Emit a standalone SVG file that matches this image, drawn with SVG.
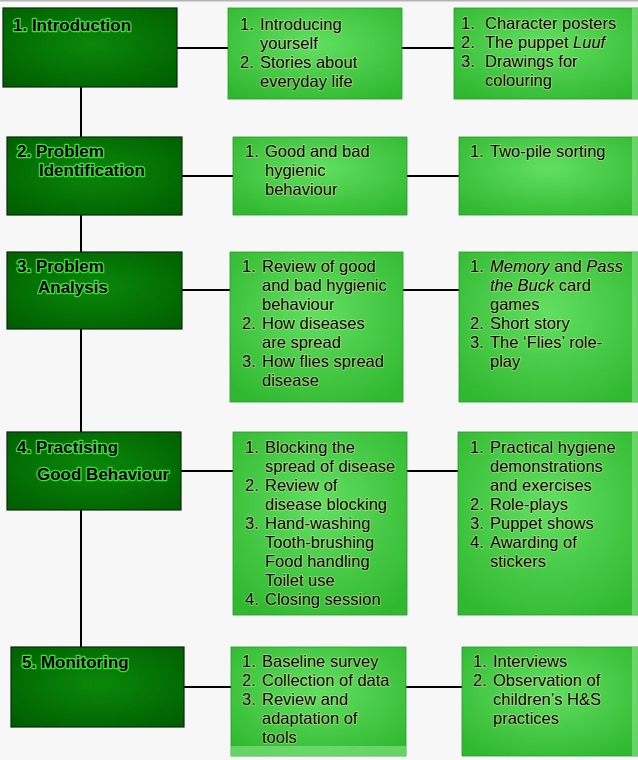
<svg xmlns="http://www.w3.org/2000/svg" width="638" height="760" viewBox="0 0 638 760">
<defs>
<radialGradient id="dk" cx="50%" cy="45%" r="70%">
<stop offset="0" stop-color="#0a880a"/>
<stop offset="1" stop-color="#005e00"/>
</radialGradient>
<radialGradient id="lt" cx="50%" cy="40%" r="70%">
<stop offset="0" stop-color="#62df62"/>
<stop offset="1" stop-color="#30b830"/>
</radialGradient>
<style>
.dk{fill:url(#dk);stroke:#0a2a0a;stroke-width:1.2}
.lt{fill:url(#lt);stroke:#2a9a2a;stroke-width:0.8}
.strip{fill:#7fe07f;opacity:0.7}
.h{font-family:"Liberation Sans",Arial,sans-serif;font-weight:bold;font-size:17px;fill:#000;stroke:#3fe03f;stroke-width:2.6;paint-order:stroke;stroke-linejoin:round}
.t{font-family:"Liberation Sans",Arial,sans-serif;font-size:16.5px;fill:#000;stroke:#d8f59a;stroke-width:1.6;stroke-opacity:0.6;paint-order:stroke;stroke-linejoin:round}
.c{stroke:#000;stroke-width:2;fill:none}
</style>
</defs>
<rect x="0" y="0" width="638" height="760" fill="#f7f7f7"/>
<rect x="0" y="0" width="638" height="1.5" fill="#b5b5b5"/>
<g id="connectors">
<line class="c" x1="81" y1="87" x2="81" y2="647"/>
<line class="c" x1="177" y1="48" x2="228" y2="48"/>
<line class="c" x1="402" y1="48" x2="454" y2="48"/>
<line class="c" x1="182" y1="176" x2="233" y2="176"/>
<line class="c" x1="407" y1="176" x2="459" y2="176"/>
<line class="c" x1="182" y1="290" x2="230" y2="290"/>
<line class="c" x1="403" y1="290" x2="459" y2="290"/>
<line class="c" x1="181" y1="471" x2="233" y2="471"/>
<line class="c" x1="407" y1="471" x2="458" y2="471"/>
<line class="c" x1="184" y1="687" x2="231" y2="687"/>
<line class="c" x1="406" y1="687" x2="462" y2="687"/>
</g>
<g id="n1">
<rect class="dk" x="3" y="8" width="174" height="79"/>
<text class="h" x="13" y="31">1. Introduction</text>
</g>
<g id="n1a">
<rect class="lt" x="228" y="8" width="174" height="91"/>
<text class="t"><tspan x="240" y="30">1.</tspan><tspan x="260" y="30">Introducing</tspan><tspan x="260" y="49">yourself</tspan><tspan x="240" y="68">2.</tspan><tspan x="260" y="68">Stories about</tspan><tspan x="260" y="87">everyday life</tspan></text>
</g>
<g id="n1b">
<rect class="lt" x="454" y="8" width="184" height="91"/>
<rect class="strip" x="632" y="8" width="6" height="91"/>
<text class="t"><tspan x="461" y="29">1.</tspan><tspan x="485" y="29">Character posters</tspan><tspan x="461" y="48">2.</tspan><tspan x="485" y="48">The puppet <tspan font-style="italic">Luuf</tspan></tspan><tspan x="461" y="67">3.</tspan><tspan x="485" y="67">Drawings for</tspan><tspan x="485" y="86">colouring</tspan></text>
</g>
<g id="n2">
<rect class="dk" x="7" y="137" width="175" height="78"/>
<text class="h"><tspan x="17" y="157">2. Problem</tspan><tspan x="39" y="176">Identification</tspan></text>
</g>
<g id="n2a">
<rect class="lt" x="233" y="137" width="174" height="78"/>
<text class="t"><tspan x="245" y="157">1.</tspan><tspan x="265" y="157">Good and bad</tspan><tspan x="265" y="176">hygienic</tspan><tspan x="265" y="195">behaviour</tspan></text>
</g>
<g id="n2b">
<rect class="lt" x="459" y="137" width="179" height="78"/>
<rect class="strip" x="632" y="137" width="6" height="78"/>
<text class="t"><tspan x="470" y="157">1.</tspan><tspan x="490" y="157">Two-pile sorting</tspan></text>
</g>
<g id="n3">
<rect class="dk" x="7" y="252" width="175" height="77"/>
<text class="h"><tspan x="17" y="272">3. Problem</tspan><tspan x="38" y="293">Analysis</tspan></text>
</g>
<g id="n3a">
<rect class="lt" x="230" y="252" width="173" height="150"/>
<text class="t"><tspan x="242" y="272">1.</tspan><tspan x="262" y="272">Review of good</tspan><tspan x="262" y="291">and bad hygienic</tspan><tspan x="262" y="310">behaviour</tspan><tspan x="242" y="329">2.</tspan><tspan x="262" y="329">How diseases</tspan><tspan x="262" y="348">are spread</tspan><tspan x="242" y="367">3.</tspan><tspan x="262" y="367">How flies spread</tspan><tspan x="262" y="386">disease</tspan></text>
</g>
<g id="n3b">
<rect class="lt" x="459" y="252" width="179" height="150"/>
<rect class="strip" x="632" y="252" width="6" height="150"/>
<text class="t"><tspan x="470" y="272">1.</tspan><tspan x="490" y="272"><tspan font-style="italic">Memory</tspan> and <tspan font-style="italic">Pass</tspan></tspan><tspan x="490" y="291"><tspan font-style="italic">the Buck</tspan> card</tspan><tspan x="490" y="310">games</tspan><tspan x="470" y="329">2.</tspan><tspan x="490" y="329">Short story</tspan><tspan x="470" y="348">3.</tspan><tspan x="490" y="348">The ‘Flies’ role-</tspan><tspan x="490" y="367">play</tspan></text>
</g>
<g id="n4">
<rect class="dk" x="7" y="432" width="174" height="78"/>
<text class="h"><tspan x="17" y="453">4. Practising</tspan><tspan x="37" y="480">Good Behaviour</tspan></text>
</g>
<g id="n4a">
<rect class="lt" x="233" y="432" width="174" height="183"/>
<text class="t"><tspan x="245" y="453">1.</tspan><tspan x="265" y="453">Blocking the</tspan><tspan x="265" y="472">spread of disease</tspan><tspan x="245" y="491">2.</tspan><tspan x="265" y="491">Review of</tspan><tspan x="265" y="510">disease blocking</tspan><tspan x="245" y="529">3.</tspan><tspan x="265" y="529">Hand-washing</tspan><tspan x="265" y="548">Tooth-brushing</tspan><tspan x="265" y="567">Food handling</tspan><tspan x="265" y="586">Toilet use</tspan><tspan x="245" y="605">4.</tspan><tspan x="265" y="605">Closing session</tspan></text>
</g>
<g id="n4b">
<rect class="lt" x="458" y="432" width="180" height="183"/>
<rect class="strip" x="632" y="432" width="6" height="183"/>
<text class="t"><tspan x="470" y="453">1.</tspan><tspan x="490" y="453">Practical hygiene</tspan><tspan x="490" y="472">demonstrations</tspan><tspan x="490" y="491">and exercises</tspan><tspan x="470" y="510">2.</tspan><tspan x="490" y="510">Role-plays</tspan><tspan x="470" y="529">3.</tspan><tspan x="490" y="529">Puppet shows</tspan><tspan x="470" y="548">4.</tspan><tspan x="490" y="548">Awarding of</tspan><tspan x="490" y="567">stickers</tspan></text>
</g>
<g id="n5">
<rect class="dk" x="11" y="647" width="173" height="80"/>
<text class="h" x="22" y="668">5. Monitoring</text>
</g>
<g id="n5a">
<rect class="lt" x="231" y="647" width="175" height="109"/>
<rect class="strip" x="231" y="746" width="175" height="10" opacity="0.5"/>
<text class="t"><tspan x="242" y="667">1.</tspan><tspan x="262" y="667">Baseline survey</tspan><tspan x="242" y="686">2.</tspan><tspan x="262" y="686">Collection of data</tspan><tspan x="242" y="705">3.</tspan><tspan x="262" y="705">Review and</tspan><tspan x="262" y="724">adaptation of</tspan><tspan x="262" y="743">tools</tspan></text>
</g>
<g id="n5b">
<rect class="lt" x="462" y="647" width="176" height="109"/>
<rect class="strip" x="632" y="647" width="6" height="109"/>
<text class="t"><tspan x="473" y="667">1.</tspan><tspan x="493" y="667">Interviews</tspan><tspan x="473" y="686">2.</tspan><tspan x="493" y="686">Observation of</tspan><tspan x="493" y="705">children’s H&amp;S</tspan><tspan x="493" y="724">practices</tspan></text>
</g>
</svg>
